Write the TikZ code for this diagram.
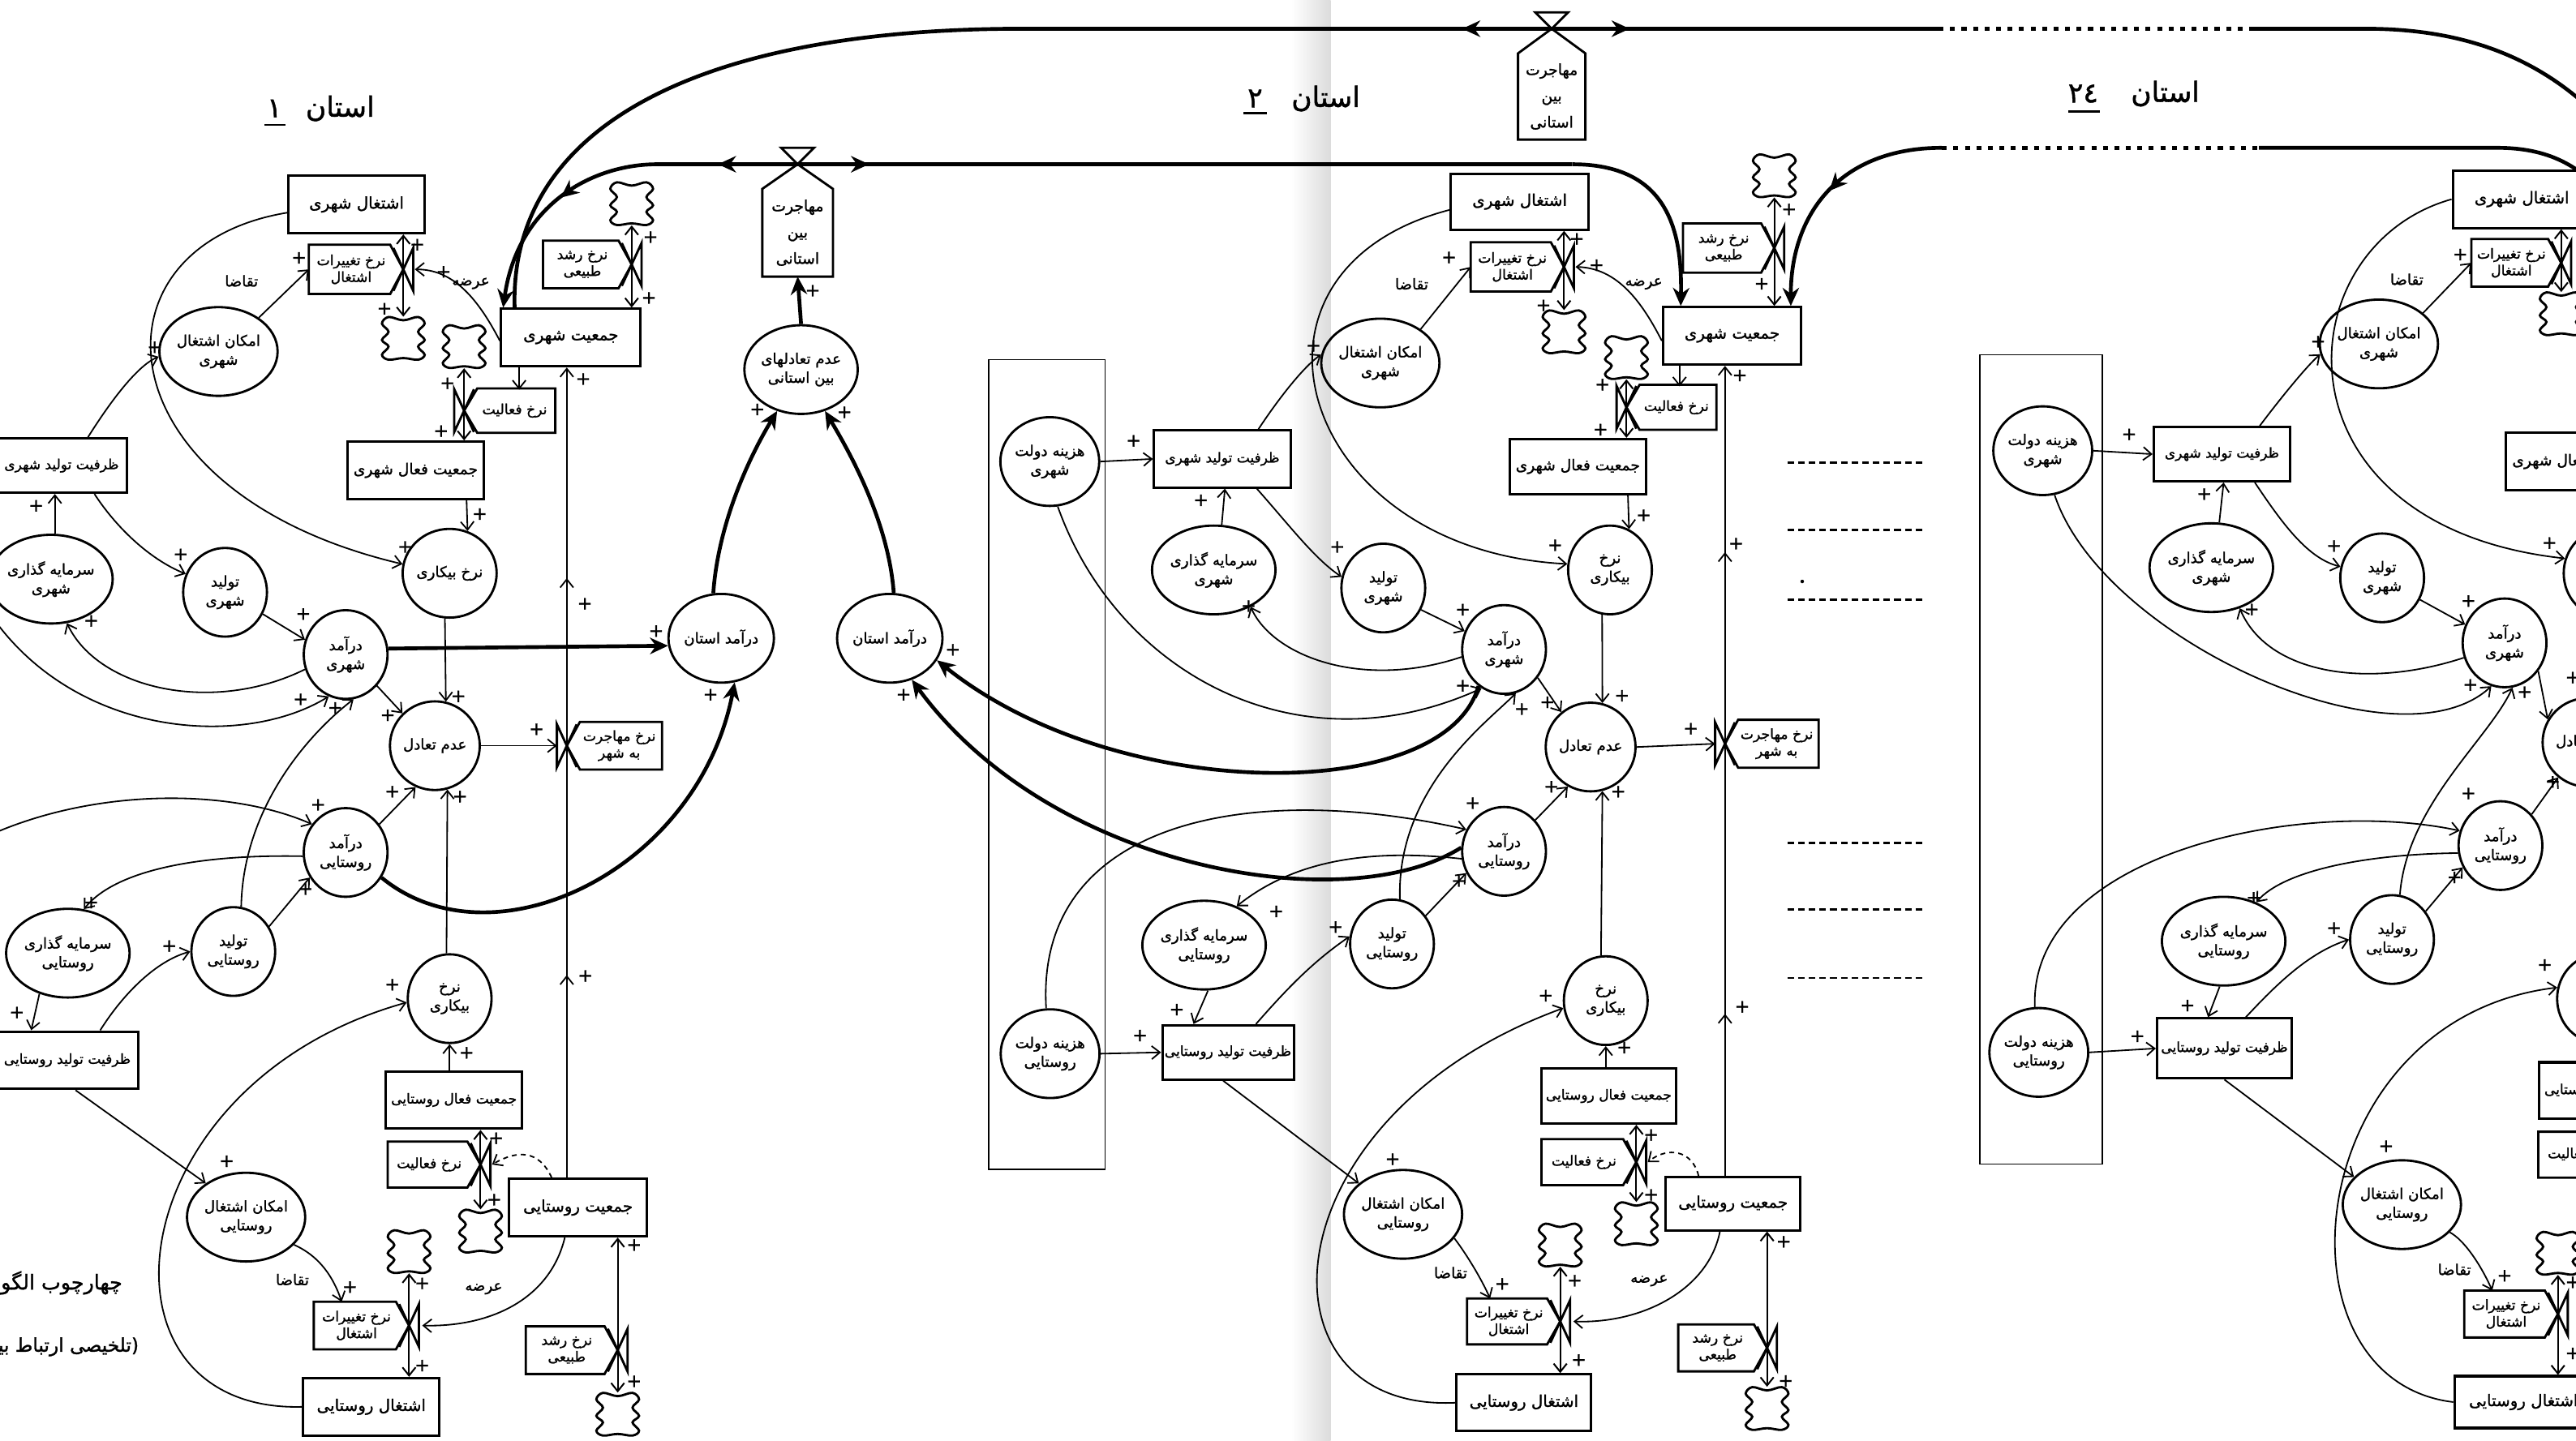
\documentclass[tikz,border=0pt]{standalone}
\usepackage{fontspec}
\newfontfamily\fa[Script=Arabic,FakeBold=1.3]{DejaVu Sans}
\TeXXeTstate=1
\usetikzlibrary{arrows.meta,shapes.geometric,decorations.markings}
\newcommand\pers[1]{{\fa\beginR #1\endR}}
\newcommand\ftb{\fa\fontsize{9.8}{11}\selectfont}
\newcommand\ftbm{\fa\fontsize{9.2}{11}\selectfont}
\newcommand\ftbs{\fa\fontsize{8.4}{10}\selectfont}
\newcommand\ftc{\fa\fontsize{9}{11.5}\selectfont}
\newcommand\fth{\fa\fontsize{8.5}{10.2}\selectfont}
\newcommand\ftm{\fa\fontsize{9.3}{16}\selectfont}
\newcommand\ftt{\fa\fontsize{17}{17}\selectfont}
\newcommand\hexR[6]{%
 \draw[shp] (#2,#4-#5) -- (#3-8,#4-#5) -- (#3,#4) -- (#3-8,#4+#5) -- (#2,#4+#5) -- cycle;
 \node[hx] (#1) at ({(#2+#3-6)/2},#4) {#6};
 \coordinate (#1-w) at (#2,#4);
 \coordinate (#1-nw) at (#2,#4-#5);}
\newcommand\hexL[6]{%
 \draw[shp] (#2,#4) -- (#2+8,#4-#5) -- (#3,#4-#5) -- (#3,#4+#5) -- (#2+8,#4+#5) -- cycle;
 \node[hx] (#1) at ({(#2+#3+6)/2},#4) {#6};}
\newcommand\valveR[3]{\coordinate (#1) at (#2,#3); \draw[shp] (#2-6,#3-13) -- (#2+6,#3+13) -- (#2+6,#3-13) -- (#2-6,#3+13);}
\newcommand\valveL[3]{\coordinate (#1) at (#2,#3); \draw[shp] (#2+6,#3-13) -- (#2-6,#3+13) -- (#2-6,#3-13) -- (#2+6,#3+13);}
\newcommand\cloudat[3]{\node[minimum width=26pt,minimum height=26pt,inner sep=0pt] (#1) at (#2,#3) {}; \pic at (#2,#3) {sdcloud};}
\newcommand\migbox[6]{%
 \draw[shp] (#2,#3) -- (#2+#4,#3+15) -- (#2+#4,#5) -- (#2-#4,#5) -- (#2-#4,#3+15) -- cycle;
 \draw[shp] (#2,#3) -- (#2-10,#3-10) -- (#2+10,#3-10) -- cycle;
 \coordinate (#1-a) at (#2,#3);
 \coordinate (#1-b) at (#2,#5);
 \node[hx,font=\ftm] (#1) at (#2,{(#3+15+#5)/2}) {#6};}
\begin{document}
\begin{tikzpicture}[x=1pt,y=-1pt,
 bx/.style={draw,line width=1.5pt,minimum width=83pt,minimum height=35pt,inner sep=1pt,font=\ftb},
 cc/.style={ellipse,draw,line width=1.4pt,minimum width=51pt,minimum height=54pt,inner sep=0pt,align=center,font=\ftc},
 hx/.style={inner sep=0pt,align=center,font=\fth},
 pl/.style={font=\fa\fontsize{11}{11}\selectfont,inner sep=0pt},
 lb/.style={font=\ftc,inner sep=0pt},
 arr/.style={line width=0.9pt,-{Straight Barb[length=5pt,width=8pt]}},
 flw/.style={line width=1pt,{Straight Barb[length=5pt,width=8pt]}-{Straight Barb[length=5pt,width=8pt]}},
 thk/.style={line width=2.3pt,-{Stealth[length=11pt,width=10pt]}},
 tl/.style={line width=2.3pt},
 shp/.style={line width=1.4pt},
 dotl/.style={line width=2.3pt,dash pattern=on 3pt off 4pt},
 dsh/.style={line width=1.4pt,dash pattern=on 4pt off 2.5pt},
 dsharr/.style={line width=0.9pt,dash pattern=on 3pt off 2.5pt,-{Straight Barb[length=5pt,width=8pt]}},
 midthk/.style={postaction={decorate},decoration={markings,mark=at position #1 with {\arrow{Stealth[length=11pt,width=10pt]}}}},
 sdcloud/.pic={\draw[shp] plot[smooth cycle,tension=0.6] coordinates {(-9,-13) (0,-11) (9,-13) (13,-9) (9,-4) (13,1) (9,5) (13,10) (9,13) (0,12) (-9,13) (-13,10) (-9,5) (-13,1) (-9,-4) (-13,-9)};}
]
\useasboundingbox (0,0) rectangle (1568,877);
\shade[left color=white,right color=black!14] (786,0) rectangle (810,877);

% ================= titles
\node[font=\ftt] (t1) at (207,66) {\pers{استان}};
\node[font=\ftt] (n1) at (167,66) {\fa ١};
\draw[line width=1.4pt] (161,76) -- (174,76);
\node[font=\ftt] (t2) at (807,60) {\pers{استان}};
\node[font=\ftt] (n2) at (764,60) {\fa ٢};
\draw[line width=1.4pt] (757,69) -- (771,69);
\node[font=\ftt] (t24) at (1318,57) {\pers{استان}};
\node[font=\ftt] (n24) at (1268,57) {\fa ٢٤};
\draw[line width=1.4pt] (1259,68) -- (1278,68);
\node[anchor=east,font=\fa\fontsize{12.5}{12.5}\selectfont] (ft1) at (78,781) {\pers{چهارچوب الگوی}};
\node[anchor=east,font=\fa\fontsize{11.5}{11.5}\selectfont] (ft2) at (88,820) {\pers{(تلخیصی ارتباط بین}};

% ================= province 1 nodes
\node[bx] (bE1) at (217,124.5) {\pers{اشتغال شهری}};
\node[bx,minimum width=85pt] (bP1) at (347.5,205.5) {\pers{جمعیت شهری}};
\node[bx,font=\ftbm] (bL1) at (253,286.4) {\pers{جمعیت فعال شهری}};
\node[bx,minimum width=80pt,minimum height=33pt,font=\ftbs] (bC1) at (37.5,283.5) {\pers{ظرفیت تولید شهری}};
\node[bx,minimum width=86pt,font=\ftbs] (bCR1) at (41,645.5) {\pers{ظرفیت تولید روستایی}};
\node[bx,font=\ftbs] (bLR1) at (276.3,669.7) {\pers{جمعیت فعال روستایی}};
\node[bx,minimum width=84pt] (bPR1) at (351.8,735.2) {\pers{جمعیت روستایی}};
\node[bx] (bER1) at (226,856.5) {\pers{اشتغال روستایی}};
\node[cc] (cEP1) at (133,214) {\pers{امکان اشتغال}\\\pers{شهری}};
\node[cc] (cI1) at (31,352.6) {\pers{سرمایه گذاری}\\\pers{شهری}};
\node[cc] (cPU1) at (137,360.6) {\pers{تولید}\\\pers{شهری}};
\node[cc] (cIU1) at (210.4,398.5) {\pers{درآمد}\\\pers{شهری}};
\node[cc] (cU1) at (273.7,349) {\pers{نرخ بیکاری}};
\node[cc] (cM1) at (264.7,454) {\pers{عدم تعادل}};
\node[cc] (cIR1) at (210.4,519) {\pers{درآمد}\\\pers{روستایی}};
\node[cc] (cIvR1) at (41.3,580.3) {\pers{سرمایه گذاری}\\\pers{روستایی}};
\node[cc] (cPR1) at (142,579.3) {\pers{تولید}\\\pers{روستایی}};
\node[cc] (cUR1) at (273.7,608) {\pers{نرخ}\\\pers{بیکاری}};
\node[cc] (cEPR1) at (149.8,741) {\pers{امکان اشتغال}\\\pers{روستایی}};
\node[cc] (cIP1) at (439,388.6) {\pers{درآمد استان}};
\node[cc] (cIMB) at (487.6,225) {\pers{عدم تعادلهای}\\\pers{بین استانی}};
\node[cc] (cIP2) at (541.6,388.6) {\pers{درآمد استان}};

\hexR{hE1}{188}{245.5}{164}{15}{\pers{نرخ تغییرات}\\\pers{اشتغال}}
\valveR{vE1}{245.5}{164}
\cloudat{clE1}{245.5}{206}
\hexR{hG1}{330.5}{384.5}{161}{14.5}{\pers{نرخ رشد}\\\pers{طبیعی}}
\valveR{vG1}{384.5}{161}
\cloudat{clG1}{384.5}{124}
\hexL{hA1}{282.5}{338}{250}{13.5}{\pers{نرخ فعالیت}}
\valveL{vA1}{282.5}{250}
\cloudat{clA1}{282.5}{211}
\hexR{hAR1}{236}{292.5}{709}{14}{\pers{نرخ فعالیت}}
\valveR{vAR1}{292.5}{709}
\cloudat{clAR1}{292.5}{749.5}
\hexR{hGR1}{320}{376}{822}{14.5}{\pers{نرخ رشد}\\\pers{طبیعی}}
\valveR{vGR1}{376}{822}
\cloudat{clGR1}{376}{861}
\hexR{hER1}{191}{249}{807}{14.5}{\pers{نرخ تغییرات}\\\pers{اشتغال}}
\valveR{vER1}{249}{807}
\cloudat{clER1}{249}{762}
\hexL{hM1}{345}{403}{454}{14.5}{\pers{نرخ مهاجرت}\\\pers{به شهر}}
\valveL{vM1}{345}{454}
\migbox{mig12}{485.5}{100}{21.5}{168.4}{\pers{مهاجرت}\\\pers{بین}\\\pers{استانی}}

% ================= province 2 nodes
\draw[line width=0.9pt] (602,219) rectangle (672.7,712);
\node[cc] (cGU2) at (639,281) {\pers{هزینه دولت}\\\pers{شهری}};
\node[bx,minimum height=34.7pt,font=\ftbs] (bCU2) at (744,279.4) {\pers{ظرفیت تولید شهری}};
\node[cc] (cIvU2) at (738.8,347) {\pers{سرمایه گذاری}\\\pers{شهری}};
\node[cc] (cPU2) at (842,358) {\pers{تولید}\\\pers{شهری}};
\node[cc] (cIU2) at (915.5,395.4) {\pers{درآمد}\\\pers{شهری}};
\node[cc] (cU2) at (980,347) {\pers{نرخ}\\\pers{بیکاری}};
\node[cc] (cM2) at (968.2,454.8) {\pers{عدم تعادل}};
\node[cc] (cIR2) at (915.5,518.3) {\pers{درآمد}\\\pers{روستایی}};
\node[cc] (cPR2) at (847.3,574.7) {\pers{تولید}\\\pers{روستایی}};
\node[cc] (cIvR2) at (732.9,575.4) {\pers{سرمایه گذاری}\\\pers{روستایی}};
\node[cc] (cGR2) at (639.2,641.5) {\pers{هزینه دولت}\\\pers{روستایی}};
\node[bx,minimum width=80pt,minimum height=33pt,font=\ftbs] (bCR2) at (747.5,640.7) {\pers{ظرفیت تولید روستایی}};
\node[cc] (cUR2) at (977.4,609.2) {\pers{نرخ}\\\pers{بیکاری}};
\node[cc] (cEPR2) at (854,739.3) {\pers{امکان اشتغال}\\\pers{روستایی}};
\node[cc] (cEP2) at (840.2,221) {\pers{امکان اشتغال}\\\pers{شهری}};
\node[bx,minimum width=84pt,minimum height=34pt] (bE2) at (925,122.8) {\pers{اشتغال شهری}};
\node[bx,minimum width=84pt] (bP2) at (1054.3,204.5) {\pers{جمعیت شهری}};
\node[bx,minimum height=33.4pt,font=\ftbm] (bL2) at (960.4,284) {\pers{جمعیت فعال شهری}};
\node[bx,minimum width=82pt,minimum height=33.5pt,font=\ftbs] (bLR2) at (979.2,667.3) {\pers{جمعیت فعال روستایی}};
\node[bx,minimum width=82pt,minimum height=32.4pt] (bPR2) at (1054.9,732.8) {\pers{جمعیت روستایی}};
\node[bx,minimum width=82pt,minimum height=34.5pt] (bER2) at (927.6,854) {\pers{اشتغال روستایی}};

\hexR{hE2}{895.2}{952}{162.5}{15}{\pers{نرخ تغییرات}\\\pers{اشتغال}}
\valveR{vE2}{952}{162.5}
\cloudat{clE2}{952}{202}
\hexR{hG2}{1024.4}{1080}{151}{15}{\pers{نرخ رشد}\\\pers{طبیعی}}
\valveR{vG2}{1080}{151}
\cloudat{clG2}{1080}{107}
\hexL{hA2}{990}{1044.8}{248}{13.7}{\pers{نرخ فعالیت}}
\valveL{vA2}{990}{248}
\cloudat{clA2}{990}{217.7}
\hexL{hM2}{1050}{1107}{452.8}{14.6}{\pers{نرخ مهاجرت}\\\pers{به شهر}}
\valveL{vM2}{1050}{452.8}
\hexR{hAR2}{938.3}{996}{707.5}{14}{\pers{نرخ فعالیت}}
\valveR{vAR2}{996}{707.5}
\cloudat{clAR2}{996}{745}
\hexR{hGR2}{1021.5}{1075.6}{820.6}{14.3}{\pers{نرخ رشد}\\\pers{طبیعی}}
\valveR{vGR2}{1075.6}{820.6}
\cloudat{clGR2}{1075.6}{857.5}
\hexR{hER2}{893}{949.7}{804.5}{14}{\pers{نرخ تغییرات}\\\pers{اشتغال}}
\valveR{vER2}{949.7}{804.5}
\cloudat{clER2}{949.7}{758}
\migbox{migT}{944.5}{17.5}{20.5}{85}{\pers{مهاجرت}\\\pers{بین}\\\pers{استانی}}

\foreach \yy in {281.5,322.8,365,513.3,553.5,595.4} \draw[dsh] (1088,\yy) -- (1170,\yy);
\fill (1097,354) circle (1.1pt);

% ================= province 24 nodes
\draw[line width=0.9pt] (1205,216) rectangle (1279.7,708.7);
\node[bx,minimum width=84pt] (bE24) at (1535,121.3) {\pers{اشتغال شهری}};
\hexR{hE24}{1504.3}{1559}{160}{14.5}{\pers{نرخ تغییرات}\\\pers{اشتغال}}
\valveR{vE24}{1559}{160}
\cloudat{clE24}{1559}{191}
\node[cc] (cEP24) at (1448,209.4) {\pers{امکان اشتغال}\\\pers{شهری}};
\node[cc] (cGU24) at (1243.4,274.4) {\pers{هزینه دولت}\\\pers{شهری}};
\node[bx,minimum height=33pt,font=\ftbs] (bCU24) at (1352.5,276.5) {\pers{ظرفیت تولید شهری}};
\node[cc] (cIvU24) at (1346,345.6) {\pers{سرمایه گذاری}\\\pers{شهری}};
\node[cc] (cPU24) at (1450,351.8) {\pers{تولید}\\\pers{شهری}};
\node[cc] (cIU24) at (1524.5,391.4) {\pers{درآمد}\\\pers{شهری}};
\node[cc] (cIR24) at (1522,514.8) {\pers{درآمد}\\\pers{روستایی}};
\node[cc] (cIvR24) at (1353.5,573) {\pers{سرمایه گذاری}\\\pers{روستایی}};
\node[cc] (cPR24) at (1456,572) {\pers{تولید}\\\pers{روستایی}};
\node[bx,minimum width=82pt,minimum height=36.5pt,font=\ftbs] (bCR24) at (1354,638.3) {\pers{ظرفیت تولید روستایی}};
\node[cc] (cGR24) at (1241,640.7) {\pers{هزینه دولت}\\\pers{روستایی}};
\node[cc] (cEPR24) at (1462,733.4) {\pers{امکان اشتغال}\\\pers{روستایی}};
\hexR{hER24}{1500}{1557}{800}{14.3}{\pers{نرخ تغییرات}\\\pers{اشتغال}}
\valveR{vER24}{1557}{800}
\cloudat{clER24}{1557}{763}
\node[bx,minimum width=84pt,minimum height=31.6pt] (bER24) at (1536,853.6) {\pers{اشتغال روستایی}};
\node[bx,font=\ftbm] (bL24) at (1567,281) {\pers{جمعیت فعال شهری}};
\node[cc] (cU24) at (1586,349) {\pers{نرخ}\\\pers{بیکاری}};
\node[cc] (cM24) at (1575,452) {\pers{عدم تعادل}};
\node[cc] (cUR24) at (1582,608) {\pers{نرخ}\\\pers{بیکاری}};
\node[bx,minimum height=34.5pt,font=\ftbs] (bLR24) at (1587,664) {\pers{جمعیت فعال روستایی}};
\hexR{hAR24}{1545}{1602}{703}{14}{\pers{نرخ فعالیت}}

% ================= inter-provincial thick lines
\coordinate (lb0) at (400,100);
\coordinate (lc0) at (1182,90);
\draw[tl] ([xshift=9pt]bP1.north west) .. controls (310,80) and (420,17.5) .. (622,17.5) -- (1180,17.5);
\draw[dotl] (1180,17.5) -- (1372,17.5);
\draw[tl] (1372,17.5) -- (1440,17.5) .. controls (1500,17.5) and (1550,35) .. (1590,80);
\draw[thk] (migT-a) -- (890,17.5);
\draw[thk] (migT-a) -- (992,17.5);
\draw[tl] (lb0) -- (957,100);
\draw[thk] (957,100) .. controls (1015,100) and (1024,140) .. ([xshift=11.5pt]bP2.north west);
\draw[thk,midthk=0.45] (lb0) .. controls (360,100) and (315,125) .. ([xshift=2pt]bP1.north west);
\draw[thk] (mig12-a) -- (437,100);
\draw[thk] (mig12-a) -- (529,100);
\draw[thk,midthk=0.5] (lc0) .. controls (1120,90) and (1090,130) .. ([xshift=-7pt]bP2.north east);
\draw[dotl] (lc0) -- (1375,90);
\draw[tl] (1375,90) -- (1520,90) .. controls (1550,90) and (1572,100) .. (1590,125);
\draw[thk] (cIU1.8) -- (cIP1.-172);
\draw[thk] (cIR1.-35) .. controls (300,590) and (425,530) .. (cIP1.-73);
\draw[thk] (cIP1.100) .. controls (437,320) and (455,280) .. (cIMB.-120);
\draw[thk] (cIP2.85) .. controls (541,320) and (520,280) .. (cIMB.-60);
\draw[thk] (cIMB.north) -- (mig12-b);
\draw[thk] (cIU2.-125) .. controls (880,490) and (680,490) .. (cIP2.-25);
\draw[thk] (cIR2.175) .. controls (820,560) and (640,530) .. (cIP2.-62);

% ================= province 1 connectors
\draw[flw] (vE1 |- bE1.south) -- (clE1.north);
\draw[flw] (clG1.south) -- (vG1 |- bP1.north);
\draw[flw] (clA1.south) -- (vA1 |- bL1.north);
\draw[arr] ([xshift=-31.5pt]bP1.south) -- ++(0,13.5);
\draw[flw] (vAR1 |- bLR1.south) -- (clAR1.north);
\draw[dsharr] ([xshift=-16pt]bPR1.north) .. controls (328,700) and (315,700) .. ([xshift=7pt]vAR1);
\draw[flw] (vGR1 |- bPR1.south) -- (clGR1.north);
\draw[flw] (clER1.south) -- (vER1 |- bER1.north);
\draw[arr] ([xshift=-8pt]bPR1.south) .. controls (335,790) and (300,808) .. ([xshift=8pt]vER1);
\draw[arr,postaction={decorate},decoration={markings,mark=at position 0.25 with {\arrow{Straight Barb[length=5pt,width=8pt]}},mark=at position 0.74 with {\arrow{Straight Barb[length=5pt,width=8pt]}}}] (vM1 |- bPR1.north) -- (vM1 |- bP1.south);
\draw[arr] (cM1.east) -- ([xshift=-6pt]vM1);
\draw[arr] (cEP1.40) -- (hE1-w);
\draw[arr] ([yshift=-5pt]bE1.west) .. controls (50,150) and (60,300) .. (cU1.169);
\draw[arr] ([xshift=20pt]bC1.south) .. controls (70,320) and (90,340) .. (cPU1.155);
\draw[arr] (cI1.85) -- (cI1.85 |- bC1.south);
\draw[arr] ([xshift=16pt]bC1.north) .. controls (70,240) and (85,222) .. (cEP1.185);
\draw[arr] (cPU1.-30) -- (cIU1.160);
\draw[arr] (cIU1.200) .. controls (130,435) and (60,420) .. (cI1.-70);
\coordinate (L1) at (-3,378);
\draw[arr] (L1) .. controls (50,450) and (150,455) .. (cIU1.-112);
\draw[arr] (cPR1.80) .. controls (148,490) and (190,445) .. (cIU1.-80);
\draw[arr] (cIU1.-45) -- (cM1.135);
\draw[arr] (cU1.-96) -- (cM1.76);
\draw[arr] ([xshift=31pt]bL1.south) -- (cU1.67);
\draw[arr] (cIR1.40) -- (cM1.-115);
\draw[arr] (cUR1.94) -- (cM1.-74);
\coordinate (L2) at (-3,507);
\draw[arr] (L2) .. controls (60,480) and (140,480) .. (cIR1.140);
\draw[arr] (cIR1.185) .. controls (120,520) and (70,530) .. (cIvR1.70);
\draw[arr] (cPR1.35) -- (cIR1.-145);
\draw[arr] (cIvR1.-125) -- ([xshift=-22pt]bCR1.north);
\draw[arr] ([xshift=20pt]bCR1.north) .. controls (75,605) and (95,585) .. (cPR1.180);
\draw[arr] ([xshift=5pt]bCR1.south) -- (cEPR1.140);
\draw[arr] (cEPR1.-30) .. controls (195,765) and (203,778) .. ([xshift=17pt]hER1-nw);
\draw[arr] (bER1.west) .. controls (50,860) and (70,660) .. (cUR1.185);
\draw[arr] (cUR1.south |- bLR1.north) -- (cUR1.south);
\draw[arr] ([yshift=-2pt]bP1.west) .. controls (290,180) and (275,164) .. ([xshift=7pt]vE1);

% ================= province 2 connectors
\draw[flw] (vE2 |- bE2.south) -- (clE2.north);
\draw[flw] (clG2.south) -- (vG2 |- bP2.north);
\draw[flw] (clA2.south) -- (vA2 |- bL2.north);
\draw[arr] ([xshift=-32pt]bP2.south) -- ++(0,12.5);
\draw[arr,postaction={decorate},decoration={markings,mark=at position 0.2 with {\arrow{Straight Barb[length=5pt,width=8pt]}},mark=at position 0.77 with {\arrow{Straight Barb[length=5pt,width=8pt]}}}] (vM2 |- bPR2.north) -- (vM2 |- bP2.south);
\draw[arr] (cM2.east) -- ([xshift=-6pt]vM2);
\draw[flw] (vAR2 |- bLR2.south) -- (clAR2.north);
\draw[dsharr] ([xshift=-21pt]bPR2.north) .. controls (1030,700) and (1015,698) .. ([xshift=7pt]vAR2);
\draw[flw] (vGR2 |- bPR2.south) -- (clGR2.north);
\draw[flw] (clER2.south) -- (vER2 |- bER2.north);
\draw[arr] ([xshift=-8pt]bPR2.south) .. controls (1040,785) and (1000,806) .. ([xshift=8pt]vER2);
\draw[arr] ([yshift=-3pt]bP2.west) .. controls (1000,185) and (985,163) .. ([xshift=7pt]vE2);
\draw[arr] (cGU2.east) -- (bCU2.west);
\draw[arr] (cIvU2.80) -- ([xshift=1.6pt]bCU2.south);
\draw[arr] ([xshift=21pt]bCU2.south) .. controls (785,320) and (800,340) .. (cPU2.165);
\draw[arr] ([xshift=22pt]bCU2.north) .. controls (780,240) and (795,222) .. (cEP2.172);
\draw[arr] (cEP2.40) -- (hE2-w);
\draw[arr] ([yshift=-5pt]bE2.west) .. controls (740,165) and (790,335) .. (cU2.172);
\draw[arr] (cPU2.-30) -- (cIU2.155);
\draw[arr] (cIU2.190) .. controls (830,420) and (775,400) .. (cIvU2.-45);
\draw[arr] (cGU2.-80) .. controls (680,410) and (790,470) .. (cIU2.-120);
\draw[arr] (cPR2.80) .. controls (850,480) and (905,440) .. (cIU2.-75);
\draw[arr] (cIU2.-40) -- (cM2.130);
\draw[arr] (cU2.-100) -- (cM2.75);
\draw[arr] ([xshift=30.5pt]bL2.south) -- (cU2.65);
\draw[arr] (cIR2.45) -- (cM2.-120);
\draw[arr] (cUR2.96) -- (cM2.-75);
\draw[arr] (cGR2.95) .. controls (630,500) and (760,475) .. (cIR2.150);
\draw[arr] (cIR2.190) .. controls (820,515) and (780,530) .. (cIvR2.50);
\draw[arr] (cPR2.40) -- (cIR2.-150);
\draw[arr] (cIvR2.-85) -- ([xshift=-21pt]bCR2.north);
\draw[arr] (cGR2.east) -- (bCR2.west);
\draw[arr] ([xshift=17pt]bCR2.north) .. controls (785,600) and (800,585) .. (cPR2.170);
\draw[arr] ([xshift=-3pt]bCR2.south) -- (cEPR2.145);
\draw[arr] (cEPR2.-25) .. controls (890,760) and (900,775) .. ([xshift=14pt]hER2-nw);
\draw[arr] (bER2.west) .. controls (760,860) and (770,680) .. (cUR2.-170);
\draw[arr] (cUR2.south |- bLR2.north) -- (cUR2.south);

% ================= province 24 connectors
\draw[flw] (vE24 |- bE24.south) -- (clE24.north);
\draw[flw] (clER24.south) -- (vER24 |- bER24.north);
\draw[arr] (cEP24.35) -- (hE24-w);
\draw[arr] ([xshift=23pt]bCU24.north) .. controls (1390,240) and (1405,222) .. (cEP24.190);
\draw[arr] (bE24.west) .. controls (1390,150) and (1380,320) .. (cU24.160);
\draw[arr] (cGU24.east) -- (bCU24.west);
\draw[arr] (cIvU24.80) -- ([xshift=1pt]bCU24.south);
\draw[arr] ([xshift=20pt]bCU24.south) .. controls (1390,320) and (1405,340) .. (cPU24.165);
\draw[arr] (cPU24.-30) -- (cIU24.155);
\draw[arr] (cIU24.200) .. controls (1440,420) and (1380,410) .. (cIvU24.-55);
\draw[arr] (cGU24.-75) .. controls (1280,390) and (1460,470) .. (cIU24.-107);
\draw[arr] (cPR24.80) .. controls (1465,490) and (1515,450) .. (cIU24.-80);
\draw[arr] (cIU24.-40) -- (cM24.150);
\draw[arr] (cGR24.95) .. controls (1235,520) and (1400,485) .. (cIR24.160);
\draw[arr] (cIR24.190) .. controls (1440,520) and (1390,530) .. (cIvR24.50);
\draw[arr] (cPR24.40) -- (cIR24.-150);
\draw[arr] (cIR24.45) -- (cM24.-130);
\draw[arr] ([xshift=13pt]bCR24.north) .. controls (1385,600) and (1405,580) .. (cPR24.180);
\draw[arr] (cIvR24.-95) -- ([xshift=-10pt]bCR24.north);
\draw[arr] (cGR24.east) -- (bCR24.west);
\draw[arr] (bCR24.south) -- (cEPR24.150);
\draw[arr] (cEPR24.-30) .. controls (1500,755) and (1510,770) .. ([xshift=17pt]hER24-nw);
\draw[arr] (bER24.west) .. controls (1380,840) and (1400,620) .. (cUR24.165);

% ================= labels
\node[lb] (dm1) at (147,171) {\pers{تقاضا}};
\node[lb] (dm2) at (178,779) {\pers{تقاضا}};
\node[lb] (dm3) at (859.3,172.8) {\pers{تقاضا}};
\node[lb] (dm4) at (883,774.8) {\pers{تقاضا}};
\node[lb] (dm5) at (1465,170) {\pers{تقاضا}};
\node[lb] (dm6) at (1494,772.8) {\pers{تقاضا}};
\node[lb] (sp1) at (286.6,172.6) {\pers{عرضه}};
\node[lb] (sp2) at (294.4,784.6) {\pers{عرضه}};
\node[lb] (sp3) at (1000.5,172.8) {\pers{عرضه}};
\node[lb] (sp4) at (1003.8,779.7) {\pers{عرضه}};

\foreach \px/\py [count=\i] in {182/157, 254/149, 234/188, 270/165.5, 396/144.4, 395/181.4, 272.4/233.4, 268.5/262.5, 355/230.8, 94.2/211.4, 22/308, 110/337.6, 246.6/333, 292/313, 356/367.6, 184.6/373.8, 55.5/378, 183/425.8, 204/431, 236/435.5, 279/424, 326.6/444, 399.4/384.2, 193.6/490, 186/541.3, 238.8/482, 280/485, 55.5/549.5, 10.3/616.5, 103/576, 138/707, 284/641, 238.8/599.5, 302/693, 300.8/730.4, 356.3/594.2, 386/758, 386/841, 213/783.6, 257/781.4, 257/831.4, 432.5/423, 461/249.3, 514/251, 494.7/177, 550/423, 580/395.6,
 690/268.4, 731/304.6, 814/333, 799.5/210.6, 882/156.8, 959.8/145.5, 939.5/186, 971.8/161.5, 1089/127.5, 1072.3/172.8, 975.4/234.2, 974.2/261.6, 1059/228.6, 1000.5/313.8, 946.6/332, 1056.7/331, 890.4/371.2, 760/369, 890.4/417.5, 926.3/431.7, 941.9/427.6, 987.3/423.6, 1029.2/443.7, 896.4/489, 944.3/479, 985/482, 888/536.4, 776.8/554.9, 813/564.4, 716.3/614.7, 693.9/630.5, 847.7/705.8, 940.9/606.2, 988.7/637.8, 1060.5/613, 1005/691, 1005/727.5, 1085.7/756, 1087/840.8, 914.4/781.7, 958.5/779.7, 961/828,
 1497.5/155, 1411/208, 1296/264.5, 1341.7/300.8, 1420.7/332.4, 1551.8/330.6, 1502.5/365.9, 1370.6/371.1, 1503.7/417, 1536.7/421.4, 1566/412.6, 1502.5/483.1, 1494/534.2, 1371.8/546.6, 1553.8/476, 1420.7/565.1, 1331.5/612.2, 1301/630.9, 1452.4/697.9, 1524.5/776.7, 1549/587.5, 1566/780.7, 1566/824}
 \node[pl] (pp\i) at (\px,\py) {+};
\end{tikzpicture}
\end{document}
